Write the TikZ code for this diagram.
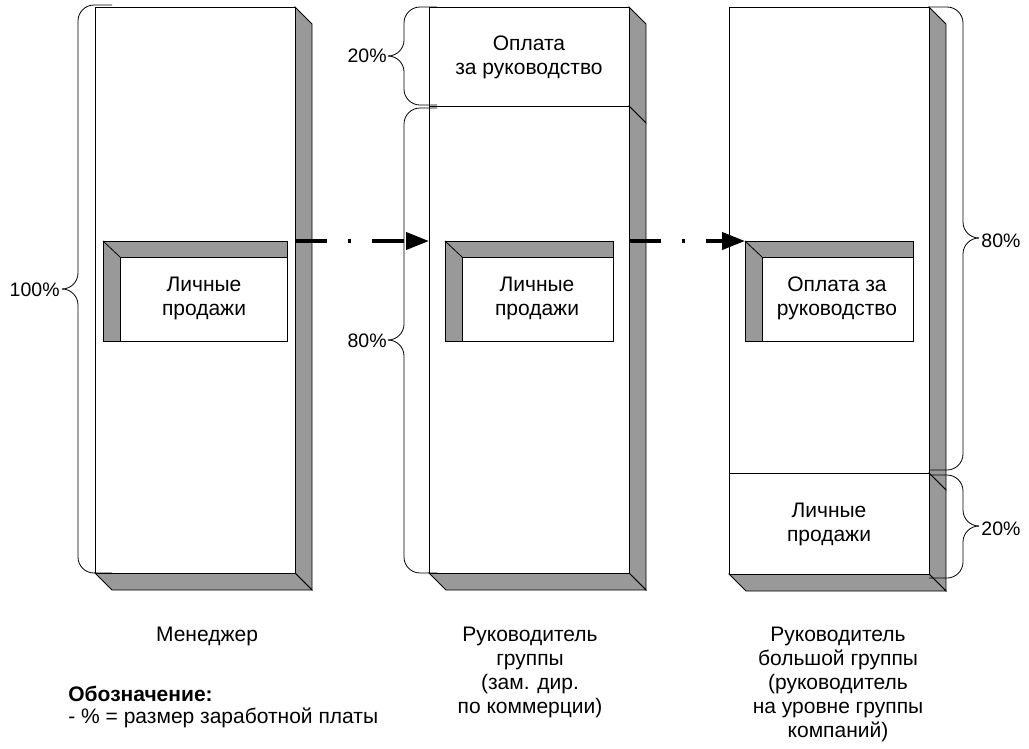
\documentclass[tikz,border=0pt]{standalone}
\usepackage{fontspec}
\setmainfont{Liberation Sans}
\usetikzlibrary{arrows.meta}
\definecolor{sidegray}{HTML}{999999}
\newcommand\slabside[3]{\filldraw[shadeface] (#1,#2) -- (#1+17,#2+17) -- (#1+17,#3+17) -- (#1,#3) -- cycle;}
\newcommand\slabbottom[3]{\filldraw[shadeface] (#1,#3) -- (#1+17,#3+17) -- (#2+17,#3+17) -- (#2,#3) -- cycle;}
\newcommand\frontbox[5]{\node[front, minimum width=#4-#2, minimum height=#5-#3, anchor=north west] (#1) at (#2,#3) {};}
\newcommand\bevelbox[5]{%
  \node[shadeface, minimum width=#4-#2, minimum height=#5-#3, anchor=north west] (#1) at (#2,#3) {};
  \filldraw[draw=black, fill=white] (#2+17,#5) -- (#2+17,#3+16) -- (#4,#3+16) -- (#4,#5) -- cycle;
  \draw (#2,#3) -- (#2+17,#3+16);
  \draw (#1.north west) rectangle (#1.south east);}
\newcommand\leftbrace[5]{% e v y1 y2 ym
  \draw[bracepath] (#1,#3) -- (#2,#3) -- (#2,#5) -- (#2-16,#5);
  \draw[bracepath] (#2-16,#5) -- (#2,#5) -- (#2,#4) -- (#1,#4);}
\newcommand\rightbrace[5]{%
  \draw[bracepath] (#1,#3) -- (#2,#3) -- (#2,#5) -- (#2+16,#5);
  \draw[bracepath] (#2+16,#5) -- (#2,#5) -- (#2,#4) -- (#1,#4);}
\begin{document}
\begin{tikzpicture}[x=1pt,y=-1pt,line width=0.8pt,
  front/.style={draw=black, fill=white, inner sep=0pt, outer sep=0pt},
  shadeface/.style={draw=black, fill=sidegray, inner sep=0pt, outer sep=0pt},
  txt/.style={font=\fontsize{21}{24}\selectfont, align=center, inner sep=0pt},
  pct/.style={font=\fontsize{19.5}{22}\selectfont, inner sep=0pt},
  bracepath/.style={draw=black, line width=0.8pt, rounded corners=16pt},
  flow/.style={line width=4pt, dash pattern=on 32pt off 21pt on 3pt off 21pt, -{Triangle[length=23pt,width=17pt]}}
]
\useasboundingbox (0,0) rectangle (1029,748);
\fill[white] (0,0) rectangle (1029,748);

% column 1
\slabside{295}{7}{573}
\slabbottom{95}{295}{573}
\frontbox{c1}{95}{7}{295}{573}
\bevelbox{lp1}{103}{241}{287}{341}
\node[txt] (t1) at (204,298) {Личные\\продажи};
\leftbrace{112}{78}{5}{573}{289}
\node[pct, anchor=east] (p1) at (60,290) {100\%};

% column 2
\slabside{629}{7}{106}
\frontbox{c2a}{429}{7}{629}{106}
\node[txt] (t2a) at (529,57) {Оплата\\за руководство};
\slabside{629}{106}{573}
\slabbottom{429}{629}{573}
\frontbox{c2b}{429}{106}{629}{573}
\bevelbox{lp2}{445}{241}{613}{341}
\node[txt] (t2b) at (537,298) {Личные\\продажи};
\leftbrace{437}{404}{7}{105}{56}
\leftbrace{437}{404}{108}{573}{340}
\node[pct, anchor=east] (p2a) at (387,56) {20\%};
\node[pct, anchor=east] (p2b) at (387,341) {80\%};

% column 3
\slabside{929}{7}{473}
\frontbox{c3a}{729}{7}{929}{473}
\bevelbox{lp3}{745}{241}{913}{341}
\node[txt] (t3a) at (837,298) {Оплата за\\руководство};
\slabside{929}{473}{574}
\slabbottom{729}{929}{574}
\frontbox{c3b}{729}{473}{929}{574}
\node[txt] (t3b) at (829,524) {Личные\\продажи};
\rightbrace{929}{963}{7}{470}{238}
\rightbrace{929}{963}{475}{578}{526}
\node[pct, anchor=west] (p3a) at (981,241) {80\%};
\node[pct, anchor=west] (p3b) at (981,529) {20\%};

% flow arrows
\draw[flow] (c1.east |- lp1.north) -- (c2b.west |- lp1.north);
\draw[flow] (c2b.east |- lp2.north) -- (lp3.north west);

% captions
\node[txt] (cap1) at (207,636) {Менеджер};
\node[txt] (cap2) at (530,672) {Руководитель\\группы\\(зам. дир.\\по коммерции)};
\node[txt] (cap3) at (838,684) {Руководитель\\большой группы\\(руководитель\\на уровне группы\\компаний)};
\node[txt, anchor=west, font=\fontsize{21}{24}\selectfont\bfseries] (leg1) at (68,694) {Обозначение:};
\node[txt, anchor=west] (leg2) at (68,718) {- \% = размер заработной платы};
\end{tikzpicture}
\end{document}
